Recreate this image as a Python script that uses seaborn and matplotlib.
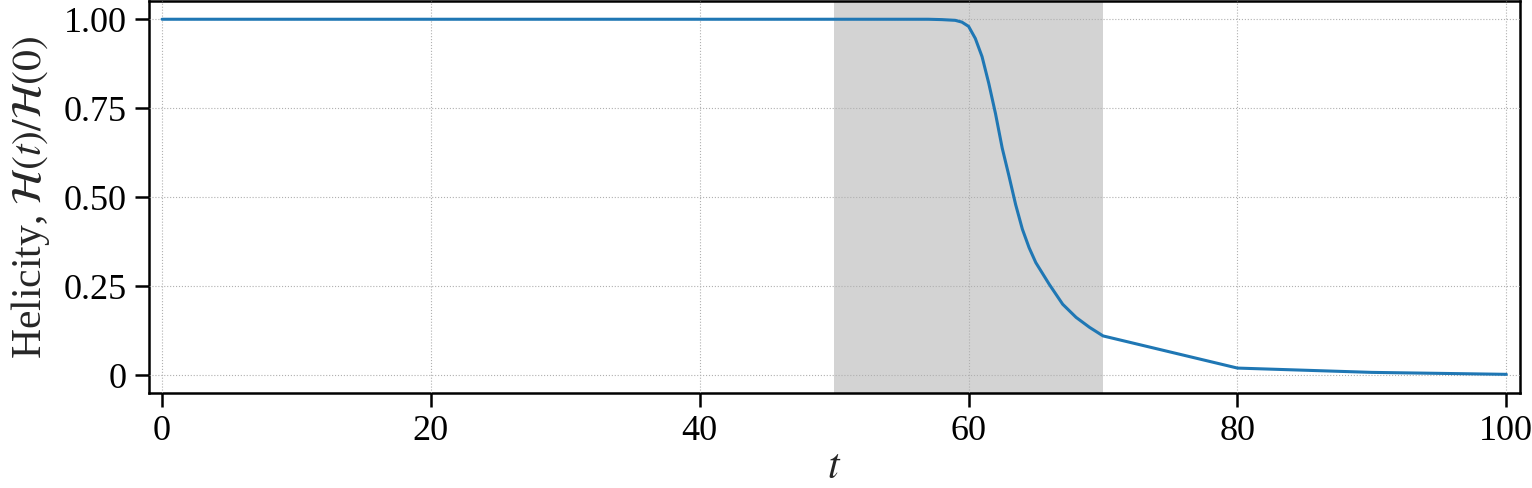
import seaborn as sns
import matplotlib.pyplot as plt
import pandas as pd

sns.set_theme(style="ticks")
plt.rcParams['font.family'] = ['Liberation Serif', 'DejaVu Serif']
plt.rcParams['mathtext.fontset'] = 'stix'

# time samples and normalised helicity
t = [0, 10, 20, 30, 40, 50, 52, 54, 56, 57, 58, 59, 59.5, 60, 60.5,
     61, 61.5, 62, 62.5, 63, 63.5, 64, 64.5, 65, 66, 67, 68, 69, 70, 80, 90, 100]
helicity = [1.0, 1.0, 1.0, 1.0, 1.0, 1.0, 1.0, 1.0, 1.0, 1.0, 0.999, 0.997, 0.992, 0.980, 0.946,
            0.895, 0.82, 0.735, 0.638, 0.56, 0.479, 0.41, 0.358, 0.316, 0.255, 0.199, 0.162,
            0.134, 0.110, 0.0196, 0.0075, 0.002]
shade_start, shade_end = 50, 70
xticks = [0, 20, 40, 60, 80, 100]
yticks = [0, 0.25, 0.5, 0.75, 1.0]
ytick_labels = ["0", "0.25", "0.50", "0.75", "1.00"]

df = pd.DataFrame({"t": t, "helicity": helicity})

fig = plt.figure(figsize=(15.32, 4.88), dpi=100)
ax = fig.add_axes([0.097, 0.195, 0.895, 0.802])

ax.axvspan(shade_start, shade_end, color="lightgray", zorder=0, lw=0)
sns.lineplot(data=df, x="t", y="helicity", ax=ax, color="#1f77b4", lw=2.2, zorder=3)

ax.set_xlim(-1, 101)
ax.set_ylim(-0.05, 1.05)
ax.set_xticks(xticks)
ax.set_yticks(yticks)
ax.set_yticklabels(ytick_labels)
ax.grid(True, ls=":", lw=0.8, color="#b0b0b0", zorder=1)
ax.set_axisbelow(False)

for s in ax.spines.values():
    s.set_color("black")
    s.set_linewidth(1.8)
ax.tick_params(axis="both", direction="out", length=10, width=1.8, labelsize=26,
               colors="black", pad=6)

ax.set_xlabel("$t$", fontsize=30, labelpad=0)
ax.set_ylabel(r"Helicity, $\mathcal{H}(t)/\mathcal{H}(0)$", fontsize=30, labelpad=8)

fig.savefig("out.png", dpi=100)
